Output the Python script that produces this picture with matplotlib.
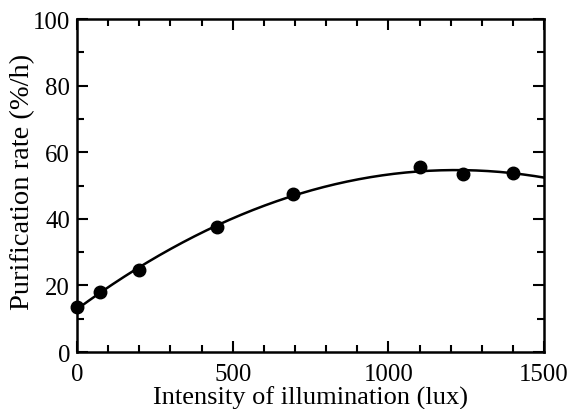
import numpy as np
import matplotlib
matplotlib.use('Agg')
import matplotlib.pyplot as plt
from matplotlib.ticker import MultipleLocator

# data
lux = [0, 75, 200, 450, 695, 1100, 1240, 1400]
rate = [13.5, 18.0, 24.5, 37.6, 47.4, 55.6, 53.4, 53.8]

plt.rcParams['font.family'] = ['Liberation Serif', 'DejaVu Serif']

fig = plt.figure(figsize=(5.68, 4.10), dpi=100)
ax = fig.add_axes([0.1356, 0.139, 0.8224, 0.812])

# quadratic fit through the points
coef = np.polyfit(lux, rate, 2)
xfit = np.linspace(0, 1500, 200)
ax.plot(xfit, np.polyval(coef, xfit), '-', color='k', linewidth=1.8)
ax.plot(lux, rate, 'o', color='k', markersize=9, clip_on=False, zorder=3)

ax.set_xlim(0, 1500)
ax.set_ylim(0, 100)
ax.xaxis.set_major_locator(MultipleLocator(500))
ax.xaxis.set_minor_locator(MultipleLocator(100))
ax.yaxis.set_major_locator(MultipleLocator(20))
ax.yaxis.set_minor_locator(MultipleLocator(10))
ax.tick_params(which='both', direction='in', top=True, right=True, width=1.5,
               labelsize=17.8)
ax.tick_params(axis='x', which='both', pad=8)
ax.tick_params(axis='y', which='both', pad=5)
ax.tick_params(which='major', length=8)
ax.tick_params(which='minor', length=5)
for s in ax.spines.values():
    s.set_linewidth(1.8)

ax.set_xlabel('Intensity of illumination (lux)', fontsize=19, labelpad=0)
ax.set_ylabel('Purification rate (%/h)', fontsize=20.5)
ax.yaxis.set_label_coords(-0.09, 0.515)

fig.savefig('out.png', dpi=100)
